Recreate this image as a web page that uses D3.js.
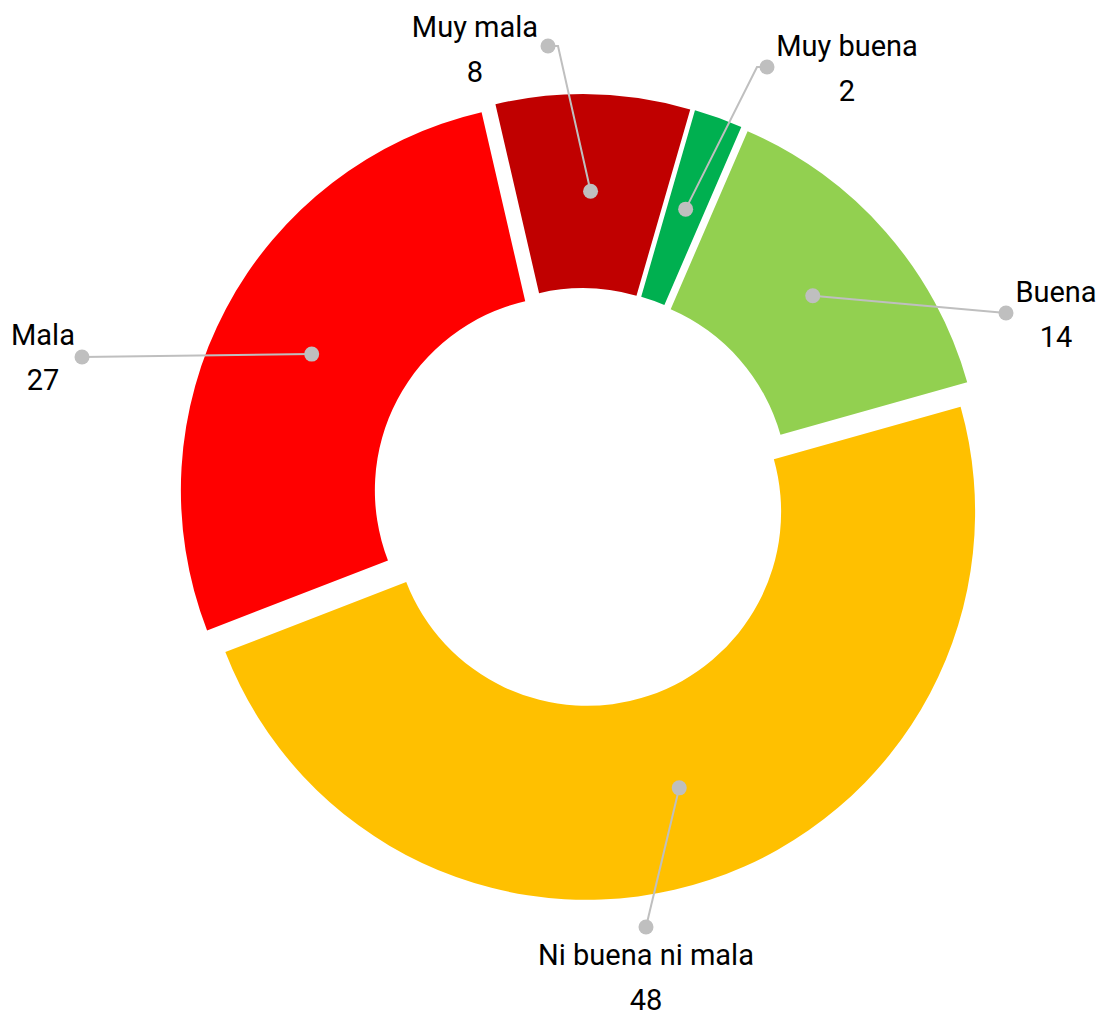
<!DOCTYPE html>
<html lang="es">
<head>
    <meta charset="UTF-8">
    <title>Donut</title>
    <script src="https://cdnjs.cloudflare.com/ajax/libs/d3/7.6.1/d3.min.js"></script>
    <style>
        body { margin: 0; background: #fff; }
        text { font-family: Roboto, 'Noto Sans', sans-serif; font-size: 29px; fill: #000; }
    </style>
</head>
<body>
    <div id="svgBox"></div>
    <script>
        // data
        var categories = ['Muy mala', 'Muy buena', 'Buena', 'Ni buena ni mala', 'Mala'];
        var values = [8, 2, 14, 48, 27];
        var colors = ['#C00000', '#00B050', '#92D050', '#FFC000', '#FF0000'];

        // hand placed labels: text centre + baseline, end of leader line, elbow
        var labelLayout = [
            { x: 475, y: 37, ex: 548, ey: 46, elbow: 10 },
            { x: 847, y: 56, ex: 767, ey: 67, elbow: -10 },
            { x: 1056, y: 302, ex: 1006, ey: 313, elbow: 0 },
            { x: 646, y: 965, ex: 646, ey: 927, elbow: 0 },
            { x: 43, y: 345, ex: 82, ey: 357, elbow: 0 }
        ];

        var w = 1103,
            h = 1016,
            cx = 582.3,
            cy = 497.4,
            outerR = 388,
            innerR = 194,
            explode = 15.2,
            svg = d3.select('#svgBox')
                        .append('svg')
                        .attr('width', w)
                        .attr('height', h);

        var data = categories.map((c, i) => ({ name: c, value: values[i], color: colors[i], lab: labelLayout[i] }));

        var pie = d3.pie()
                    .sort(null)
                    .value((d) => d.value)
                    .startAngle(-13 * Math.PI / 180)
                    .endAngle((360 - 13) * Math.PI / 180);

        var arc = d3.arc().innerRadius(innerR).outerRadius(outerR);
        var midArc = d3.arc().innerRadius((innerR + outerR) / 2).outerRadius((innerR + outerR) / 2);

        var arcs = pie(data);

        // offset of each slice along its bisector
        function shift(d) {
            var a = (d.startAngle + d.endAngle) / 2;
            return [explode * Math.sin(a), -explode * Math.cos(a)];
        }

        var g = svg.append('g').attr('transform', 'translate(' + cx + ',' + cy + ')');

        // SLICES
        g.selectAll('path.slice')
            .data(arcs)
            .enter()
            .append('path')
            .attr('class', 'slice')
            .attr('d', arc)
            .attr('fill', (d) => d.data.color)
            .attr('transform', (d) => 'translate(' + shift(d) + ')');

        // LEADER LINES
        var leaders = svg.append('g');
        arcs.forEach((d) => {
            var s = shift(d),
                c = midArc.centroid(d),
                x0 = cx + c[0] + s[0],
                y0 = cy + c[1] + s[1],
                L = d.data.lab,
                pts = [[x0, y0]];
            if (L.elbow) pts.push([L.ex + L.elbow, L.ey]);
            pts.push([L.ex, L.ey]);

            leaders.append('path')
                .attr('d', d3.line()(pts))
                .attr('fill', 'none')
                .attr('stroke', '#BFBFBF')
                .attr('stroke-width', 2);
            leaders.append('circle')
                .attr('cx', x0).attr('cy', y0).attr('r', 7.5)
                .attr('fill', '#BFBFBF');
            leaders.append('circle')
                .attr('cx', L.ex).attr('cy', L.ey).attr('r', 7.5)
                .attr('fill', '#BFBFBF');
        });

        // LABELS
        var labels = svg.append('g');
        data.forEach((d) => {
            labels.append('text')
                .attr('x', d.lab.x)
                .attr('y', d.lab.y)
                .attr('text-anchor', 'middle')
                .text(d.name);
            labels.append('text')
                .attr('x', d.lab.x)
                .attr('y', d.lab.y + 45)
                .attr('text-anchor', 'middle')
                .text(d.value);
        });
    </script>
</body>
</html>
